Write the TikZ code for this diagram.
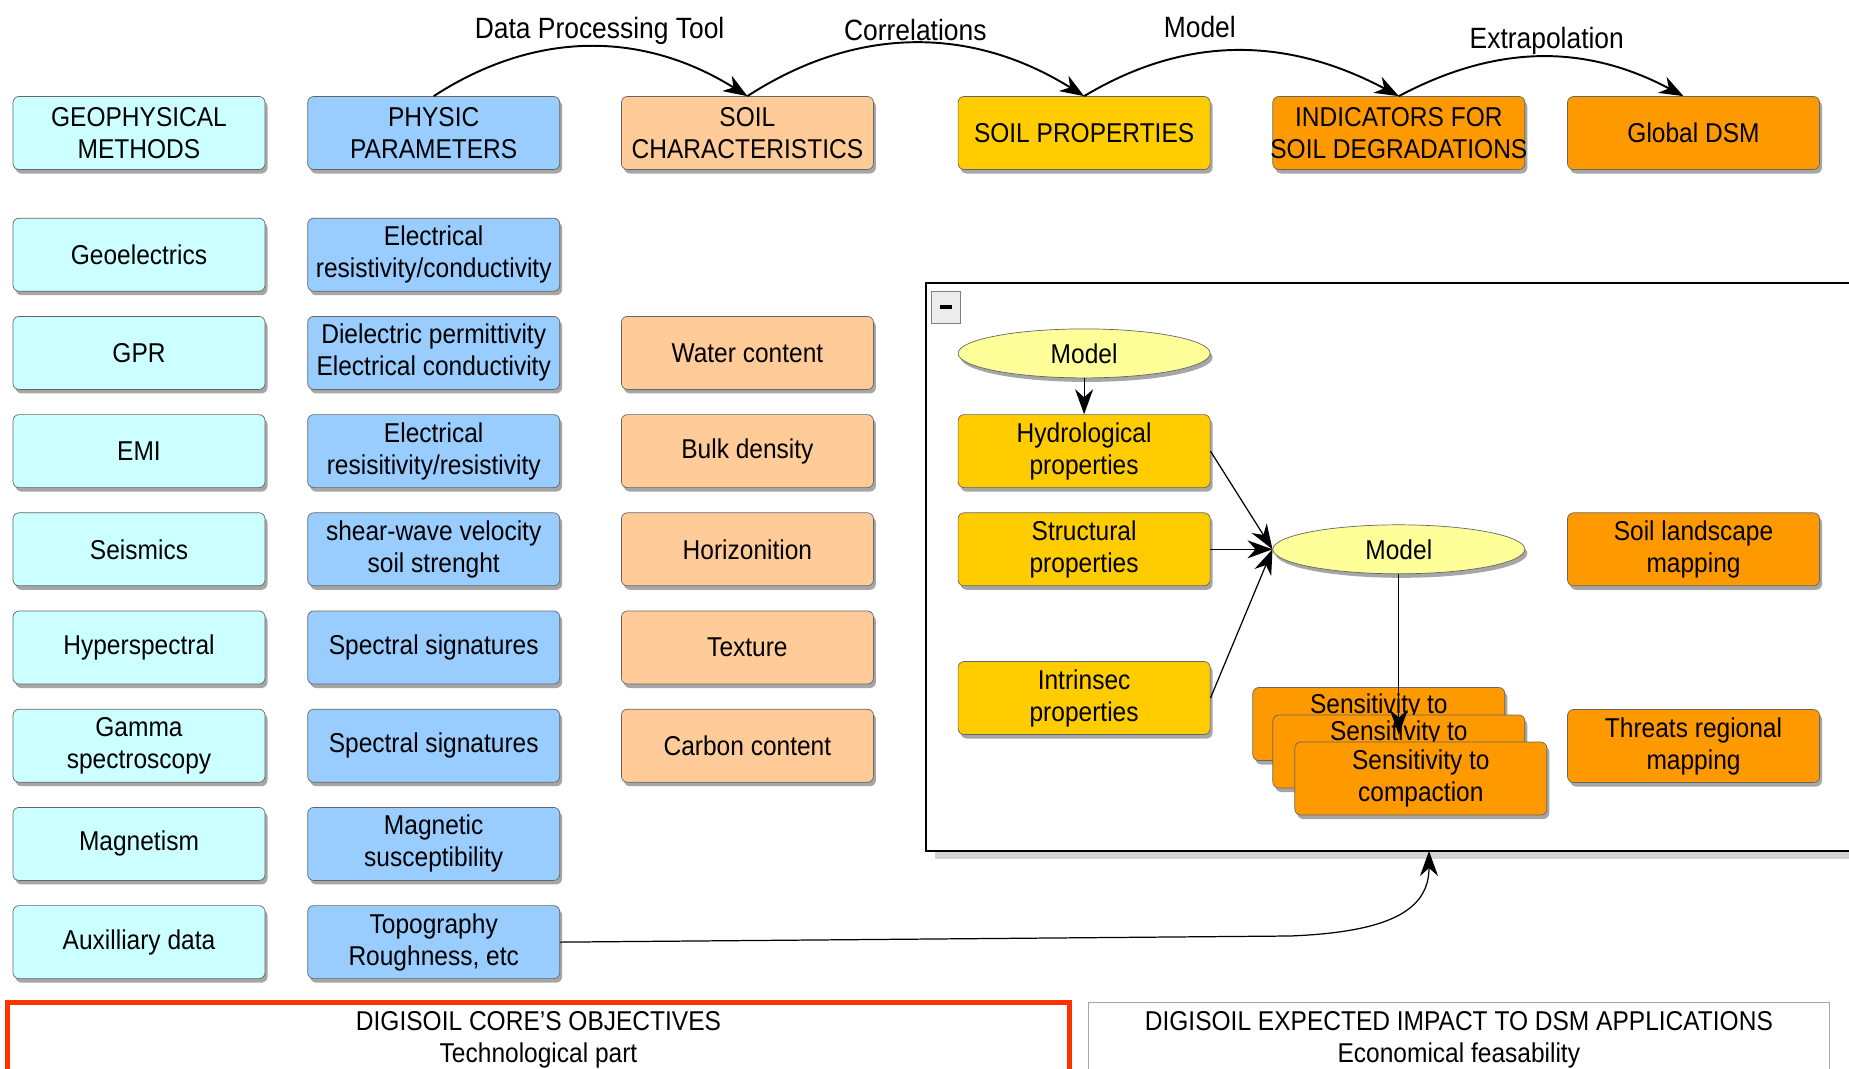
\documentclass[tikz,border=0pt]{standalone}
\usepackage{fontspec}
\setmainfont[FakeStretch=0.9]{Liberation Sans}
\usepackage{xcolor}
\usetikzlibrary{positioning,arrows.meta,shapes.geometric,shadows}

\definecolor{geoC}{HTML}{CCFFFF}
\definecolor{physC}{HTML}{99CCFF}
\definecolor{soilC}{HTML}{FFCC99}
\definecolor{propC}{HTML}{FFCC00}
\definecolor{degC}{HTML}{FF9900}
\definecolor{ellC}{HTML}{FFFF99}
\definecolor{coreC}{HTML}{FF3300}

\begin{document}
\begin{tikzpicture}[
  node distance=4.9mm and 8.4mm,
  every node/.style={font=\fontsize{15.5}{18.2}\selectfont},
  box/.style={draw=gray!80!black, rounded corners=1.2mm, inner sep=1pt,
              align=center, minimum width=50.4mm, minimum height=14.6mm,
              drop shadow={shadow xshift=0.5mm, shadow yshift=-0.8mm,
                           fill=gray!70, opacity=1}},
  geob/.style={box, fill=geoC},
  physb/.style={box, fill=physC},
  soilb/.style={box, fill=soilC},
  propb/.style={box, fill=propC},
  degb/.style={box, fill=degC},
  ell/.style={ellipse, draw=gray!80!black, fill=ellC, inner sep=1pt,
              minimum width=50.4mm, minimum height=9.8mm,
              drop shadow={shadow xshift=0.5mm, shadow yshift=-0.8mm,
                           fill=gray!70, opacity=1}},
  frame/.style={draw=black, line width=1.1pt, fill=white,
                drop shadow={shadow xshift=1.8mm, shadow yshift=-1.6mm,
                             fill=gray!35, opacity=1}},
  foldb/.style={draw=gray, fill=gray!15, minimum width=5.8mm,
                minimum height=6.4mm, inner sep=0pt},
  core/.style={draw=coreC, line width=1mm, fill=white, align=center,
               minimum width=212.4mm, minimum height=14.8mm},
  impact/.style={draw=gray!70, fill=white, align=center,
                 minimum width=148.2mm, minimum height=14.8mm},
  lbl/.style={inner sep=1pt, font=\fontsize{16.7}{20}\selectfont},
  arr/.style={-{Stealth[length=5mm, width=3.6mm, inset=1.6mm]}, line width=0.7pt},
  arc/.style={-{Stealth[length=4.8mm, width=3.6mm, inset=1.5mm]}, line width=1.1pt}
]
\path[use as bounding box, clip] (0,0) rectangle (36.98,-21.36);
\fill[white] (0,0) rectangle (36.98,-21.36);

% header row
\node[geob] (geo) at (2.78,-2.66) {GEOPHYSICAL\\METHODS};
\node[physb, right=0.84cm of geo]     (phys)     {PHYSIC\\PARAMETERS};
\node[soilb, right=1.22cm of phys]    (soilch)   {SOIL\\CHARACTERISTICS};
\node[propb, right=1.68cm of soilch]  (soilprop) {SOIL PROPERTIES};
\node[degb,  right=1.24cm of soilprop] (indic)
  {INDICATORS FOR\\\makebox[0pt]{SOIL DEGRADATIONS}};
\node[degb,  right=0.84cm of indic]   (gdsm)     {Global DSM};

% methods
\node[geob, below=0.96cm of geo] (geoel) {Geoelectrics};
\node[geob, below=of geoel] (gpr)   {GPR};
\node[geob, below=of gpr]   (emi)   {EMI};
\node[geob, below=of emi]   (seis)  {Seismics};
\node[geob, below=of seis]  (hyper) {Hyperspectral};
\node[geob, below=of hyper] (gamma) {Gamma\\spectroscopy};
\node[geob, below=of gamma] (magn)  {Magnetism};
\node[geob, below=of magn]  (aux)   {Auxilliary data};

% parameters
\node[physb, below=0.96cm of phys] (pelec)  {Electrical\\resistivity/conductivity};
\node[physb, below=of pelec]  (pdiel)  {Dielectric permittivity\\Electrical conductivity};
\node[physb, below=of pdiel]  (pres)   {Electrical\\resisitivity/resistivity};
\node[physb, below=of pres]   (pshear) {shear-wave velocity\\soil strenght};
\node[physb, below=of pshear] (pspec1) {Spectral signatures};
\node[physb, below=of pspec1] (pspec2) {Spectral signatures};
\node[physb, below=of pspec2] (pmag)   {Magnetic\\susceptibility};
\node[physb, below=of pmag]   (ptopo)  {Topography\\Roughness, etc};

% characteristics
\node[soilb, right=1.22cm of pdiel] (water)   {Water content};
\node[soilb, below=of water]        (bulk)    {Bulk density};
\node[soilb, below=of bulk]         (horiz)   {Horizonition};
\node[soilb, below=of horiz]        (texture) {Texture};
\node[soilb, below=of texture]      (carbon)  {Carbon content};

% group frame
\draw[frame] (18.52,-5.66) rectangle (38,-17.02);
\coordinate (grpin) at (28.58,-17.02);
\node[foldb] (fold) at (18.92,-6.14) {\rule{2.4mm}{0.8mm}};

\node[propb, right=1.68cm of bulk]  (hydro)  {Hydrological\\properties};
\node[propb, right=1.68cm of horiz] (struct) {Structural\\properties};
\node[propb, below=1.5cm of struct] (intr)   {Intrinsec\\properties};
\node[ell, above=0.72cm of hydro]   (model1) {Model};
\node[ell, right=1.24cm of struct]  (model2) {Model};
\node[degb, right=0.84cm of model2] (landsc) {Soil landscape\\mapping};
\node[degb, below=2.46cm of landsc] (threat) {Threats regional\\mapping};
\node[degb, below=2.26cm of model2, xshift=-0.4cm] (sens1) {Sensitivity to\\\strut};
\node[degb] (sens2) at ([xshift=0.4cm, yshift=-0.55cm]sens1.center) {Sensitivity to\\\strut};
\draw[arr] (model2) -- ([yshift=-0.4cm]sens2.north);
\node[degb] (sens3) at ([xshift=0.44cm, yshift=-0.54cm]sens2.center) {Sensitivity to\\compaction};

\draw[arr] (model1) -- (hydro);
\draw[arr] (hydro.east)  -- (model2.west);
\draw[arr] (struct.east) -- (model2.west);
\draw[arr] (intr.east)   -- (model2.west);

% chain along the top
\draw[arc] (phys.north) to[out=33, in=148]
  node[lbl, above, pos=0.53] {Data Processing Tool} (soilch.north);
\draw[arc] (soilch.north) to[out=33, in=148]
  node[lbl, above] {Correlations} (soilprop.north);
\draw[arc] (soilprop.north) to[out=31, in=152]
  node[lbl, above=2.5mm, pos=0.37] {Model} (indic.north);
\draw[arc] (indic.north) to[out=28, in=152]
  node[lbl, above, pos=0.52] {Extrapolation} ([xshift=-0.2cm]gdsm.north);

\coordinate (bend) at (25.8,-18.72);
\draw[arr] (ptopo.east) -- (bend) .. controls (27.8,-18.64) and (28.58,-18.2) .. (grpin);

% bottom
\node[core, anchor=north west] (corebox) at (0.1,-20.0)
  {DIGISOIL CORE\char39S OBJECTIVES\\Technological part};
\node[impact, anchor=north west] (impbox) at (21.76,-20.04)
  {DIGISOIL EXPECTED IMPACT TO DSM APPLICATIONS\\Economical feasability};
\end{tikzpicture}
\end{document}
